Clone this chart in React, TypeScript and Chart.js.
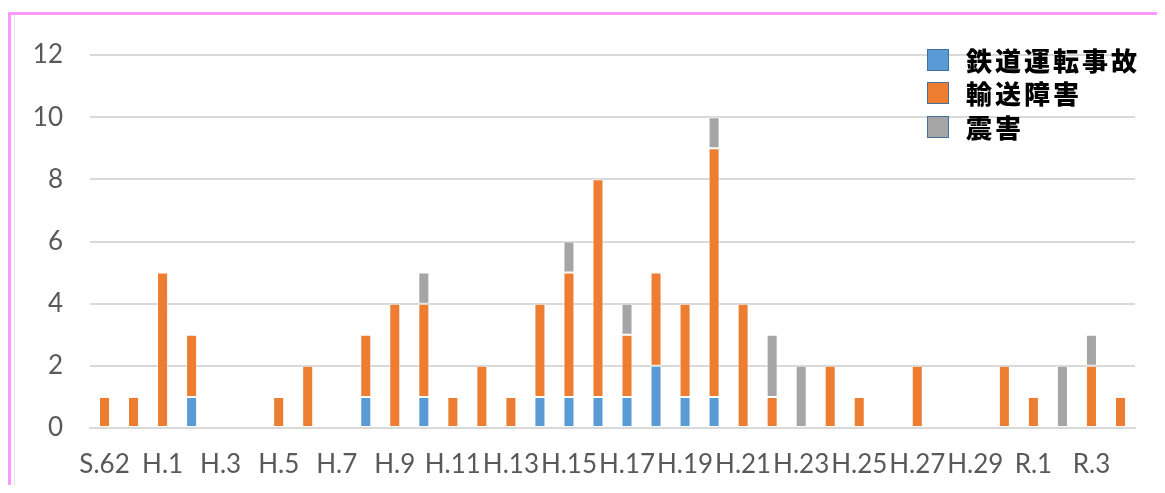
import React, { useEffect, useRef } from "react";
import { Chart, registerables } from "chart.js";

Chart.register(...registerables);

const categories = [
  "S.62", "S.63", "H.1", "H.2", "H.3", "H.4", "H.5", "H.6", "H.7", "H.8", "H.9", "H.10",
  "H.11", "H.12", "H.13", "H.14", "H.15", "H.16", "H.17", "H.18", "H.19", "H.20",
  "H.21", "H.22", "H.23", "H.24", "H.25", "H.26", "H.27", "H.28", "H.29", "H.30",
  "R.1", "R.2", "R.3", "R.4",
];

const seriesNames = ["鉄道運転事故", "輸送障害", "震害"];
const seriesColors = ["#5B9BD5", "#ED7D31", "#A5A5A5"];

const railwayAccidents = [
  0, 0, 0, 1, 0, 0, 0, 0, 0, 1, 0, 1,
  0, 0, 0, 1, 1, 1, 1, 2, 1, 1,
  0, 0, 0, 0, 0, 0, 0, 0, 0, 0,
  0, 0, 0, 0,
];
const transportDisruptions = [
  1, 1, 5, 2, 0, 0, 1, 2, 0, 2, 4, 3,
  1, 2, 1, 3, 4, 7, 2, 3, 3, 8,
  4, 1, 0, 2, 1, 0, 2, 0, 0, 2,
  1, 0, 2, 1,
];
const earthquakeDamage = [
  0, 0, 0, 0, 0, 0, 0, 0, 0, 0, 0, 1,
  0, 0, 0, 0, 1, 0, 1, 0, 0, 1,
  0, 2, 2, 0, 0, 0, 0, 0, 0, 0,
  0, 2, 1, 0,
];

const yTicks = [0, 2, 4, 6, 8, 10, 12];

export default function App() {
  const canvasRef = useRef<HTMLCanvasElement | null>(null);

  useEffect(() => {
    if (!canvasRef.current) return;
    const values = [railwayAccidents, transportDisruptions, earthquakeDamage];
    const chart = new Chart(canvasRef.current, {
      type: "bar",
      data: {
        labels: categories,
        datasets: values.map((v, i) => ({
          label: seriesNames[i],
          data: v,
          backgroundColor: seriesColors[i],
          borderColor: "rgba(255,255,255,0.55)",
          borderWidth: 1,
          borderSkipped: false,
          barPercentage: 0.76,
          categoryPercentage: 0.5,
        })),
      },
      options: {
        animation: false,
        responsive: false,
        maintainAspectRatio: false,
        layout: { padding: { top: 47, right: 30, bottom: 4, left: 0 } },
        plugins: {
          legend: { display: false },
          tooltip: { enabled: false },
        },
        scales: {
          x: {
            stacked: true,
            grid: { display: false, drawTicks: false },
            border: { display: true, color: "#D9D9D9", width: 2 },
            afterFit: (s: any) => {
              s.height = 53;
            },
            ticks: {
              autoSkip: false,
              maxRotation: 0,
              minRotation: 0,
              padding: 21,
              color: "#595959",
              font: { family: "Lato", size: 26 },
              callback: (_v: any, i: number) => (i % 2 === 0 ? categories[i] : ""),
            },
          },
          y: {
            stacked: true,
            min: 0,
            max: 12,
            afterBuildTicks: (s: any) => {
              s.ticks = yTicks.map((v) => ({ value: v }));
            },
            afterFit: (s: any) => {
              s.width = 82;
            },
            grid: { color: "#D9D9D9", lineWidth: 2, drawTicks: false },
            border: { display: false },
            ticks: {
              padding: 27,
              color: "#595959",
              font: { family: "Lato", size: 26 },
            },
          },
        },
      },
    });
    return () => chart.destroy();
  }, []);

  const legendRows = seriesNames.map((name, i) => (
    <div
      key={name}
      style={{ display: "flex", alignItems: "center", height: 33.5 }}
    >
      <div
        style={{
          width: 22,
          height: 22,
          background: seriesColors[i],
          border: "1px solid #41719C",
          boxSizing: "border-box",
          marginRight: 17,
        }}
      />
      <span
        style={{
          fontFamily: "'Noto Sans CJK JP', sans-serif",
          fontWeight: 900,
          fontSize: 26,
          letterSpacing: 3,
          color: "#000",
          lineHeight: 1,
        }}
      >
        {name}
      </span>
    </div>
  ));

  return (
    <div style={{ position: "relative", width: 1157, height: 477 }}>
      <div
        style={{
          position: "absolute",
          left: 52,
          top: -38,
          width: 102,
          height: 33,
          borderRadius: "50%",
          background: "#FFD3FF",
        }}
      />
      <div
        style={{
          position: "absolute",
          left: 0,
          top: 4,
          width: 1157,
          height: 473,
          borderTop: "3px solid #FF99FF",
          borderLeft: "3px solid #FF99FF",
          boxSizing: "border-box",
        }}
      />
      <div
        style={{
          position: "absolute",
          left: 6,
          top: 7,
          width: 1,
          height: 470,
          background: "#E3E3E3",
        }}
      />
      <canvas
        ref={canvasRef}
        width={1157}
        height={477}
        style={{ position: "absolute", left: 0, top: 0, width: 1157, height: 477 }}
      />
      <div style={{ position: "absolute", left: 919, top: 35 }}>{legendRows}</div>
    </div>
  );
}
